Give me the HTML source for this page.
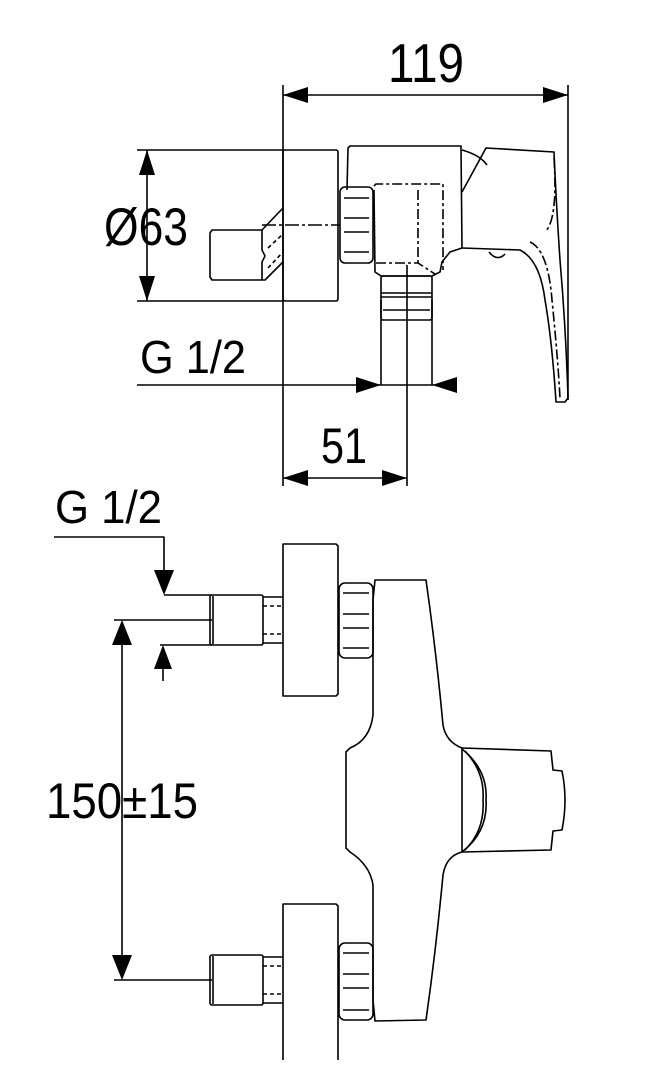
<!DOCTYPE html>
<html><head><meta charset="utf-8"><style>
html,body{margin:0;padding:0;background:#fff;}
svg{display:block;}
text{font-family:"Liberation Sans",sans-serif;fill:#000;}
</style></head><body>
<svg width="672" height="1080" viewBox="0 0 672 1080" xmlns="http://www.w3.org/2000/svg">
<g fill="none" stroke="#000" stroke-width="1.6" stroke-linejoin="round">
<!-- TOP VIEW -->
<line x1="283" y1="85" x2="283" y2="486"/>
<line x1="568" y1="85" x2="568" y2="400"/>
<line x1="283" y1="95" x2="568" y2="95"/>
<line x1="137" y1="150" x2="283" y2="150"/>
<line x1="137" y1="301" x2="283" y2="301"/>
<line x1="147" y1="150" x2="147" y2="301"/>
<line x1="137" y1="385" x2="455" y2="385"/>
<line x1="381" y1="300" x2="381" y2="385"/>
<line x1="432" y1="300" x2="432" y2="385"/>
<line x1="407" y1="265" x2="407" y2="486"/>
<line x1="283" y1="478" x2="407" y2="478"/>
<rect x="283" y="150" width="55" height="151" rx="2"/>
<path d="M262 230 L212 230 L210 233 L210 277 L212 280 L265 280 L283 262"/>
<path d="M262 230 L262 250 L265 256 L262 262 L262 280"/>
<path d="M262 230 L283 208"/>
<path d="M268 248 L283 234 M268 268 L283 252" stroke-dasharray="4 3"/>
<line x1="262" y1="225" x2="340" y2="225" stroke-dasharray="14 3 3 3"/>
<rect x="340" y="187" width="33" height="76" rx="5"/>
<line x1="344" y1="198" x2="369" y2="198"/><line x1="344" y1="218" x2="369" y2="218"/>
<line x1="344" y1="232" x2="369" y2="232"/><line x1="344" y1="252" x2="369" y2="252"/>
<path d="M347 190 L348 148 L350 146 L461 146 L462 248 L450 252 L442 262 L440 272 L432 276 L381 276 L375 272 L374 190"/>
<path d="M374 186 L376 184 L443 184 L443 270" stroke-dasharray="10 3 3 3"/>
<path d="M376 263 L418 263 L435 274" stroke-dasharray="10 3 3 3"/>
<path d="M418 190 L418 263" stroke-dasharray="10 3 3 3"/>
<rect x="381" y="276" width="51" height="44" rx="2"/>
<line x1="381" y1="293" x2="432" y2="293"/><line x1="381" y1="297" x2="432" y2="297"/>
<line x1="383" y1="310" x2="430" y2="310"/>
<path d="M462 150 Q480 155 487 165"/>
<path d="M462 192 L486 148 L554 152 Q556 200 560 260 Q566 330 568 398 L565 402 L556 402 Q552 340 545 300 Q540 260 520 250 L462 248"/>
<path d="M554 158 Q558 220 545 232" stroke-dasharray="10 3 3 3"/>
<path d="M530 242 Q548 250 552 300 Q558 360 560 398" stroke-dasharray="10 3 3 3"/>
<path d="M489 252 Q497 262 505 254"/>

<!-- BOTTOM VIEW -->
<polyline points="54,537 164,537 164,572"/>
<line x1="164" y1="595" x2="212" y2="595"/>
<line x1="114" y1="620" x2="212" y2="620"/>
<line x1="160" y1="645" x2="212" y2="645"/>
<line x1="163" y1="668" x2="163" y2="681"/>
<line x1="122" y1="640" x2="122" y2="960"/>
<line x1="114" y1="980" x2="212" y2="980"/>
<path d="M283 696 L283 544 L336 544 L338 546 L338 694 L336 696 Z"/>
<path d="M283 1060 L283 904 L336 904 L338 906 L338 1060"/>
<path d="M263 597 L283 597 M263 643 L283 643"/>
<path d="M263 606 L283 606 M263 634 L283 634" stroke-dasharray="4 3"/>
<rect x="210" y="595" width="53" height="50" rx="2"/>
<line x1="213" y1="596" x2="213" y2="644"/>
<path d="M263 957 L283 957 M263 1003 L283 1003"/>
<path d="M263 966 L283 966 M263 994 L283 994" stroke-dasharray="4 3"/>
<rect x="210" y="955" width="53" height="50" rx="2"/>
<line x1="213" y1="956" x2="213" y2="1004"/>
<rect x="339" y="583" width="34" height="75" rx="6"/>
<line x1="343" y1="593" x2="369" y2="593"/><line x1="343" y1="614" x2="369" y2="614"/>
<line x1="343" y1="628" x2="369" y2="628"/><line x1="343" y1="648" x2="369" y2="648"/>
<rect x="339" y="943" width="34" height="77" rx="6"/>
<line x1="343" y1="953" x2="369" y2="953"/><line x1="343" y1="974" x2="369" y2="974"/>
<line x1="343" y1="988" x2="369" y2="988"/><line x1="343" y1="1010" x2="369" y2="1010"/>
<path d="M375 580 L426 580 Q436 650 443 725 Q446 742 462 748 L462 852 Q446 856 443 875 Q436 950 426 1020 L375 1021 L373 1000 L373 885 Q370 865 350 852 L346 848 L346 752 L350 748 Q370 740 373 715 L373 600 Z"/>
<path d="M462 748 L551 751 L553 770 L562 771 Q568 800 562 830 L553 831 L551 850 L462 852"/>
<path d="M462 749 Q488 770 486 800 Q488 832 462 852"/>
<path d="M465 751 Q485 772 483 800 Q485 830 465 850"/>
</g>
<g fill="#000">
<polygon points="283,95 308,87 308,103"/>
<polygon points="568,95 543,87 543,103"/>
<polygon points="147,150 139,175 155,175"/>
<polygon points="147,301 139,276 155,276"/>
<polygon points="381,385 356,377 356,393"/>
<polygon points="432,385 457,377 457,393"/>
<polygon points="283,478 308,470 308,486"/>
<polygon points="407,478 382,470 382,486"/>
<polygon points="164,595 154,570 174,570"/>
<polygon points="163,645 154,669 172,669"/>
<polygon points="122,620 112,645 132,645"/>
<polygon points="122,980 112,955 132,955"/>
</g>
<text x="388" y="82" font-size="55" textLength="76" lengthAdjust="spacingAndGlyphs">119</text>
<text x="104" y="245" font-size="53" textLength="84" lengthAdjust="spacingAndGlyphs">Ø63</text>
<text x="140" y="373" font-size="46" textLength="106" lengthAdjust="spacingAndGlyphs">G 1/2</text>
<text x="321" y="463" font-size="50" textLength="46" lengthAdjust="spacingAndGlyphs">51</text>
<text x="55" y="523" font-size="46" textLength="107" lengthAdjust="spacingAndGlyphs">G 1/2</text>
<text x="46" y="818" font-size="50" textLength="152" lengthAdjust="spacingAndGlyphs">150±15</text>
</svg>
</body></html>
